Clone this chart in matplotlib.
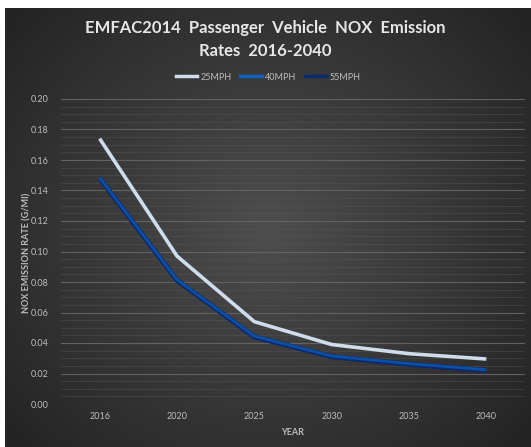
import numpy as np
import matplotlib
matplotlib.use("Agg")
import matplotlib.pyplot as plt
from matplotlib.ticker import MultipleLocator
from matplotlib.lines import Line2D

years = ["2016", "2020", "2025", "2030", "2035", "2040"]
mph25 = [0.174, 0.097, 0.054, 0.039, 0.033, 0.0295]
mph40 = [0.1485, 0.0815, 0.0445, 0.0315, 0.0265, 0.0225]
mph55 = [0.148, 0.081, 0.044, 0.031, 0.026, 0.022]
series_names = ["25MPH", "40MPH", "55MPH"]
colors = ["#cfdcec", "#0e62bd", "#0d2a6e"]

FONT = ["Lato", "DejaVu Sans"]
W, H = 531, 447
fig = plt.figure(figsize=(W / 100, H / 100), dpi=100)
fig.patch.set_facecolor("white")

# background panel with radial gradient
bg = fig.add_axes([5 / W, 0, 1 - 5 / W, 1 - 8 / H])
bg.set_axis_off()
yy, xx = np.mgrid[-1:1:300j, -1:1:300j]
r = np.sqrt(xx ** 2 + (yy * 0.9) ** 2)
r = np.clip(r / 1.3, 0, 1)
c_in = np.array([0x4e, 0x4e, 0x4e]) / 255
c_out = np.array([0x24, 0x24, 0x24]) / 255
img = c_in[None, None, :] * (1 - r[..., None]) + c_out[None, None, :] * r[..., None]
bg.imshow(img, aspect="auto", extent=[0, 1, 0, 1], interpolation="bilinear")
bg.set_xlim(0, 1)
bg.set_ylim(0, 1)

ax = fig.add_axes([61 / W, 1 - 404 / H, (525 - 61) / W, (404 - 99) / H])
ax.set_facecolor("none")
x = np.arange(len(years))
ax.set_xlim(-0.5, len(years) - 0.5)
ax.set_ylim(0, 0.20)
ax.yaxis.set_major_locator(MultipleLocator(0.02))
ax.yaxis.set_minor_locator(MultipleLocator(0.005))
ax.grid(True, which="major", axis="y", color="#626262", lw=0.8)
ax.grid(True, which="minor", axis="y", color="#575757", lw=0.5, alpha=0.6)
ax.set_axisbelow(True)
for s in ax.spines.values():
    s.set_visible(False)
ax.tick_params(which="both", length=0)
ax.set_xticks(x)
ax.set_xticklabels(years)
ax.yaxis.set_major_formatter(matplotlib.ticker.FormatStrFormatter("%.2f"))
for lab in ax.get_xticklabels() + ax.get_yticklabels():
    lab.set_color("#bdbdbd")
    lab.set_fontsize(6.5)
    lab.set_family(FONT)
ax.tick_params(axis="y", pad=9)
ax.tick_params(axis="x", pad=6)

ax.plot(x, mph25, color=colors[0], lw=2.6, solid_capstyle="butt", zorder=3)
ax.plot(x, mph55, color=colors[2], lw=3.6, solid_capstyle="butt", zorder=3)
ax.plot(x, mph40, color="#0b4fa6", lw=2.0, solid_capstyle="butt", zorder=4)

ax.set_xlabel("YEAR", color="#bdbdbd", fontsize=6.5, fontweight="bold", family=FONT, labelpad=5)
fig.text(27 / W, 1 - 253 / H, "NOX EMISSION RATE (G/MI)", rotation=90, color="#bdbdbd",
         fontsize=6.5, fontweight="bold", family=FONT, ha="center", va="center")

fig.text(265 / W, 1 - 28 / H, "EMFAC2014  Passenger  Vehicle  NOX  Emission",
         color="#e6e6e6", fontsize=12, fontweight="bold", family=FONT, ha="center", va="center")
fig.text(265 / W, 1 - 51 / H, "Rates  2016-2040",
         color="#e6e6e6", fontsize=12, fontweight="bold", family=FONT, ha="center", va="center")

handles = [Line2D([0], [0], color=c, lw=2.5) for c in colors]
leg = fig.legend(handles, series_names, loc="center", bbox_to_anchor=(268 / W, 1 - 77 / H),
                 ncol=3, frameon=False, handlelength=2.4, handletextpad=0.3,
                 columnspacing=1.0, prop={"family": FONT, "size": 6.5})
for t in leg.get_texts():
    t.set_color("#bdbdbd")

fig.savefig("out.png", dpi=100, facecolor="white")
